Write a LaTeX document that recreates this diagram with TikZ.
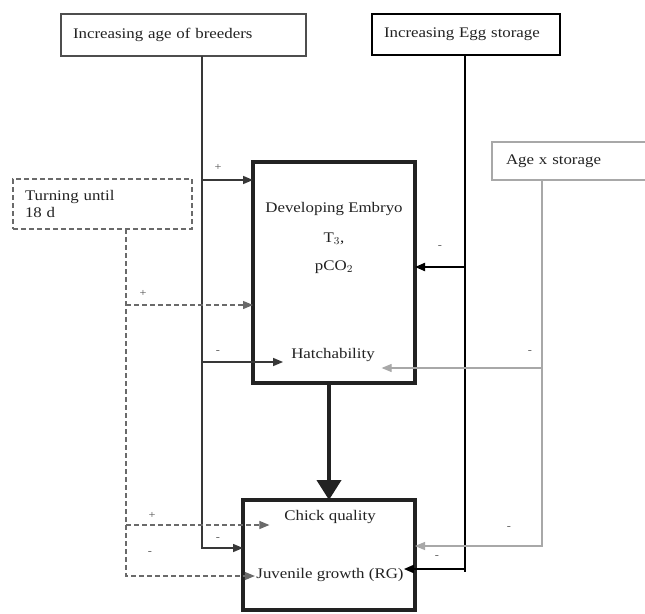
\documentclass[tikz,border=0pt]{standalone}
\usepackage{fontspec}
\setmainfont{Liberation Serif}[FakeStretch=1.15]
\usetikzlibrary{arrows.meta}
\definecolor{ink}{HTML}{222222}
\definecolor{lgray}{HTML}{A8A8A8}
\definecolor{mgray}{HTML}{6A6A6A}
\tikzset{
  box/.style={draw=ink, line width=0.9pt, inner ysep=0pt, outer sep=0pt, align=left,
    font=\fontsize{11}{14}\selectfont, text=ink},
  txt/.style={inner sep=2pt, font=\fontsize{11}{14}\selectfont, text=ink},
  sgn/.style={inner sep=0pt, font=\fontsize{8}{9}\selectfont, text=ink!80},
  arr/.style={-{Triangle[length=7.5pt,width=6pt]}},
  bline/.style={draw=ink!90, line width=1.1pt},
  eline/.style={draw=black, line width=1.5pt},
  aline/.style={draw=lgray, line width=0.8pt},
  tline/.style={draw=mgray, line width=0.9pt, dash pattern=on 3.5pt off 2.5pt},
  bigline/.style={draw=ink, line width=3pt, -{Triangle[length=15pt,width=18pt]}},
}
\begin{document}
\begin{tikzpicture}[x=0.75pt,y=-0.75pt]
\useasboundingbox (0,0) rectangle (645,613);
\fill[white] (0,0) rectangle (645,613);

% boxes
\node[box, draw=ink!80, minimum width=183.75pt, minimum height=31.5pt, text width=165.75pt, inner xsep=9pt]
  (breed) at (183.5,35) {Increasing age of breeders};
\node[box, line width=1.7pt, draw=black, minimum width=141pt, minimum height=30.75pt, text width=123pt, inner xsep=9pt]
  (egg) at (466,34.5) {Increasing Egg storage};
\node[box, draw=lgray, line width=0.8pt, minimum width=122.25pt, minimum height=28.5pt, text width=101.25pt, inner xsep=10.5pt]
  (axs) at (573.5,161) {Age x storage};
\node[box, draw=mgray, dash pattern=on 3.5pt off 2.5pt, minimum width=134.25pt, minimum height=37.5pt, text width=116.25pt, inner xsep=9pt,
  font=\fontsize{11}{13}\selectfont]
  (turn) at (102.5,204) {Turning until\\18 d};
\node[box, line width=2.6pt, minimum width=121.5pt, minimum height=165.75pt] (emb) at (334,272.5) {};
\node[box, line width=2.6pt, minimum width=129pt, minimum height=82.5pt] (chick) at (329,555) {};

% texts inside
\node[txt] (dev) at (334,209) {Developing Embryo};
\node[txt] (t3) at (334,239) {T$_3$,};
\node[txt] (pco) at (334,267) {pCO$_2$};
\node[txt] (hatch) at (333,355) {Hatchability};
\node[txt] (cq) at (330,517) {Chick quality};
\node[txt] (juv) at (330,575) {Juvenile growth (RG)};

% junctions
\coordinate (jb1) at (202,180);
\coordinate (jb2) at (202,362);
\coordinate (jb3) at (202,548);
\coordinate (je1) at (465,267);
\coordinate (je2) at (465,569);
\coordinate (ja1) at (542,368);
\coordinate (ja2) at (542,546);
\coordinate (jt1) at (126,305);
\coordinate (jt2) at (126,525);
\coordinate (jt3) at (126,576);

% breeders
\draw[bline, arr] (breed.south -| jb1) -- (jb3) -- (jb3 -| chick.west);
\draw[bline, arr] (jb1) -- (jb1 -| emb.west);
\draw[bline, arr] (jb2) -- ([xshift=-4pt]hatch.west |- jb2);

% egg storage
\draw[eline] (egg.south -| je1) -- ([yshift=-2.5pt]je2);
\draw[eline, arr] (je1) -- (je1 -| emb.east);
\draw[eline, arr] (je2) -- ([xshift=-2pt]juv.east |- je2);

% age x storage
\draw[aline, arr] (axs.south -| ja1) -- (ja2) -- (ja2 -| chick.east);
\draw[aline, arr] (ja1) -- ([xshift=3pt]hatch.east |- ja1);

% turning
\draw[tline, arr] (turn.south -| jt1) -- (jt3) -- ([xshift=1pt]juv.west |- jt3);
\draw[tline, arr] (jt1) -- (jt1 -| emb.west);
\draw[tline, arr] (jt2) -- ([xshift=-9pt]cq.west |- jt2);

% main arrow
\draw[bigline] (emb.south -| chick.north) -- (chick.north);

% signs
\node[sgn] (s1) at (218,167) {+};
\node[sgn] (s2) at (143,293) {+};
\node[sgn] (s3) at (218,352) {-};
\node[sgn] (s4) at (440,247) {-};
\node[sgn] (s5) at (530,352) {-};
\node[sgn] (s6) at (152,515) {+};
\node[sgn] (s7) at (218,539) {-};
\node[sgn] (s8) at (150,553) {-};
\node[sgn] (s9) at (509,528) {-};
\node[sgn] (s10) at (437,557) {-};
\end{tikzpicture}
\end{document}
